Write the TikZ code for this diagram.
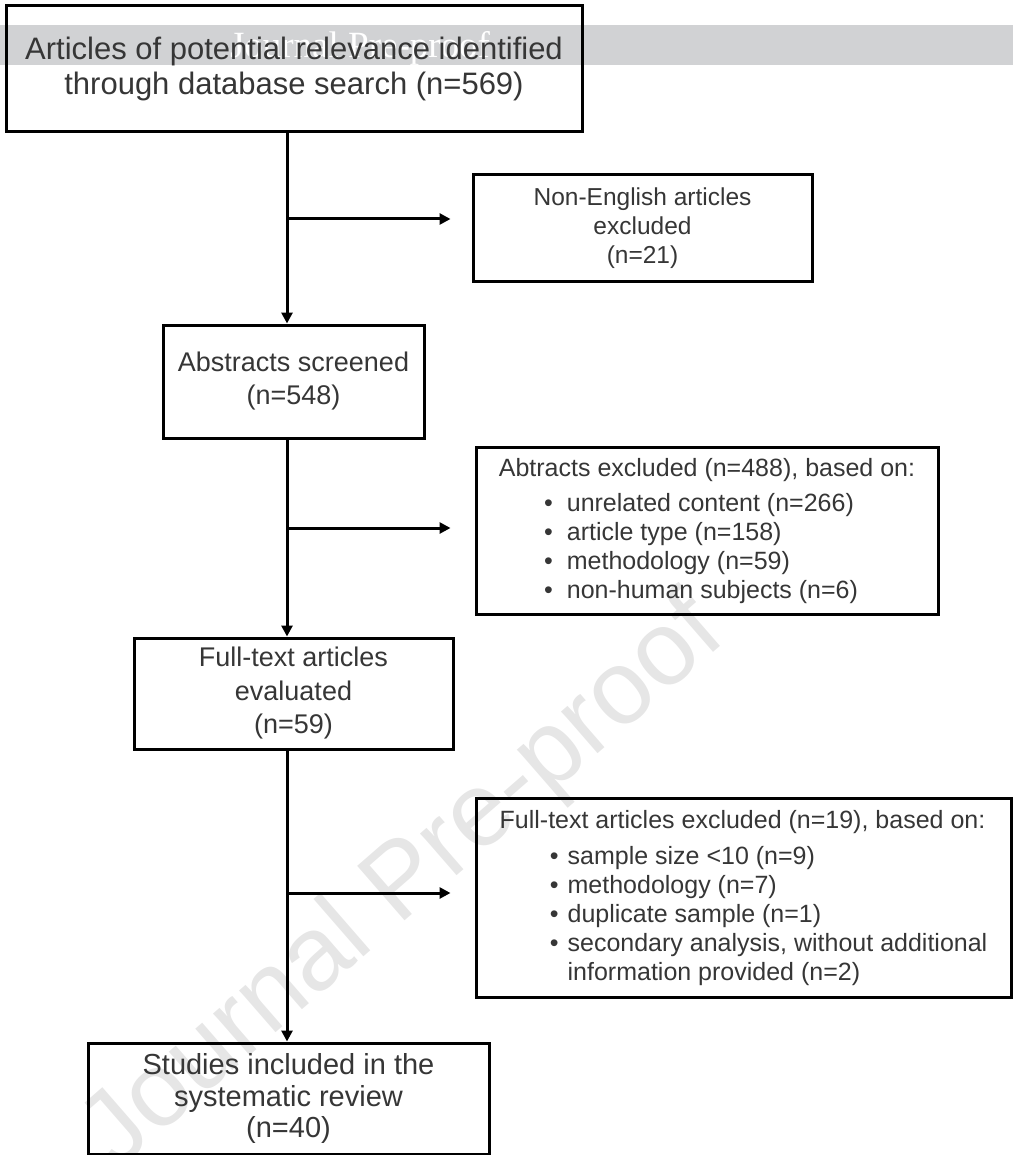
\documentclass[tikz,border=0pt]{standalone}
\usepackage{fontspec}
\setmainfont{Liberation Sans}
\newfontfamily\wmserif{Liberation Serif}
\usepackage{color}
\usetikzlibrary{arrows.meta}

\definecolor{txtgray}{HTML}{363636}
\definecolor{bandgray}{HTML}{D1D2D4}
\definecolor{wmgray}{HTML}{E6E6E6}
\newcommand{\bitem}[2][11pt]{\makebox[68pt][r]{\textbullet\hspace{#1}}#2}

\begin{document}
\begin{tikzpicture}[x=1pt,y=-1pt,
  box/.style={draw=black,line width=3pt,text=txtgray,align=center,inner sep=0pt},
  arr/.style={line width=3pt,-{Triangle[length=11pt,width=11pt]}}]
\useasboundingbox (0,0) rectangle (1013,1155);
%% watermark
\fill [bandgray] (0,25) rectangle (1013,65);
\node [text=white,font=\wmserif\fontsize{37}{37}\selectfont] (band) at (360,48) {Journal Pre-proof};
\node [text=wmgray,rotate=41,font=\fontsize{105}{105}\selectfont] (wm) at (405,885) {Journal Pre-proof};
%% boxes
\node [box,minimum width=576pt,minimum height=126pt,font=\fontsize{31}{35}\selectfont] (top) at (294,69)
  {Articles of potential relevance identified\\through database search (n=569)};
\node [box,minimum width=339pt,minimum height=107pt,font=\fontsize{24.5}{29}\selectfont] (lang) at (642.5,228.5)
  {Non-English articles\\excluded\\(n=21)};
\node [box,minimum width=261pt,minimum height=113pt,font=\fontsize{27}{33}\selectfont] (screen) at (293.5,381.5)
  {Abstracts screened\\(n=548)};
\node [box,align=left,minimum width=462pt,minimum height=167pt,font=\fontsize{25}{29}\selectfont] (absx) at (707,531)
  {Abtracts excluded (n=488), based on:\\[6pt]
   \bitem[14pt]{unrelated content (n=266)}\\
   \bitem[14pt]{article type (n=158)}\\
   \bitem[14pt]{methodology (n=59)}\\
   \bitem[14pt]{non-human subjects (n=6)}};
\node [box,minimum width=319pt,minimum height=111pt,font=\fontsize{27}{33.5}\selectfont] (full) at (293.5,693.5)
  {Full-text articles\\evaluated\\(n=59)};
\node [box,align=left,minimum width=535pt,minimum height=199pt,font=\fontsize{25}{29}\selectfont] (fullx) at (743.5,898)
  {Full-text articles excluded (n=19), based on:\\[7pt]
   \bitem[9pt]{sample size <10 (n=9)}\\
   \bitem[9pt]{methodology (n=7)}\\
   \bitem[9pt]{duplicate sample (n=1)}\\
   \bitem[9pt]{secondary analysis, without additional}\\
   \hspace*{68pt}information provided (n=2)};
\node [box,minimum width=401pt,minimum height=111pt,font=\fontsize{29}{31.5}\selectfont] (incl) at (288.5,1098.5)
  {Studies included in the\\systematic review\\(n=40)};
%% arrows
\coordinate (spine) at (287,0);
\coordinate (j1) at (287,219);
\coordinate (j2) at (287,528);
\coordinate (j3) at (287,893);
\draw [arr] (top.south -| spine) -- (screen.north -| spine);
\draw [arr] (screen.south -| spine) -- (full.north -| spine);
\draw [arr] (full.south -| spine) -- (incl.north -| spine);
\draw [arr,shorten >=21pt] (j1) -- (j1 -| lang.west);
\draw [arr,shorten >=24pt] (j2) -- (j2 -| absx.west);
\draw [arr,shorten >=24pt] (j3) -- (j3 -| fullx.west);
\end{tikzpicture}
\end{document}
